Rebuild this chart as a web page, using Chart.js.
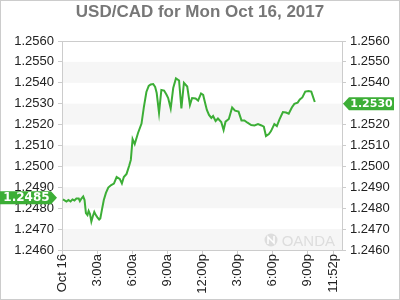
<!DOCTYPE html>
<html>
<head>
<meta charset="utf-8">
<title>USD/CAD</title>
<script src="https://cdn.jsdelivr.net/npm/chart.js@4.4.1/dist/chart.umd.min.js"></script>
<style>
    html, body { margin: 0; padding: 0; background: #fff; }
    canvas { display: block; }
</style>
</head>
<body>
<canvas id="chart" width="400" height="300"></canvas>
<script>
// ── Data ──────────────────────────────────────────────────────────────────

const TITLE = "USD/CAD for Mon Oct 16, 2017";

// minutes since 00:00, Oct 16
const TIMES = [
    5, 23, 33, 44, 54, 64, 74, 86, 92, 100,
    109, 116, 123, 131, 137, 144, 151, 159, 166, 174,
    182, 191, 197, 205, 215, 226, 238, 253, 267, 281,
    297, 308, 318, 332, 345, 354, 363, 374, 391, 409,
    421, 434, 446, 456, 469, 479, 487, 499, 511, 525,
    537, 546, 559, 572, 586, 602, 614, 627, 644, 658,
    669, 687, 700, 715, 726, 736, 745, 756, 768, 777,
    790, 802, 819, 831, 841, 858, 875, 890, 908, 923,
    938, 954, 973, 990, 1008, 1026, 1038, 1049, 1064, 1075,
    1092, 1105, 1118, 1136, 1152, 1166, 1182, 1195, 1212, 1223,
    1236, 1251, 1268, 1282, 1300
];

const RATES = [
    1.24842, 1.24832, 1.24839, 1.24832, 1.24842, 1.24837, 1.24846, 1.24846, 1.24834, 1.24846,
    1.24856, 1.24839, 1.24777, 1.24767, 1.24787, 1.24772, 1.24736, 1.24763, 1.24782, 1.24767,
    1.24756, 1.24746, 1.24751, 1.24791, 1.24839, 1.24873, 1.24899, 1.24911, 1.24918, 1.24949,
    1.24940, 1.24918, 1.24949, 1.24964, 1.25002, 1.25031, 1.25131, 1.25107, 1.25160, 1.25205,
    1.25284, 1.25356, 1.25385, 1.25392, 1.25394, 1.25380, 1.25351, 1.25256, 1.25366, 1.25363,
    1.25344, 1.25327, 1.25277, 1.25375, 1.25421, 1.25411, 1.25277, 1.25400, 1.25382, 1.25294,
    1.25327, 1.25325, 1.25315, 1.25349, 1.25342, 1.25303, 1.25270, 1.25246, 1.25232, 1.25241,
    1.25217, 1.25229, 1.25212, 1.25174, 1.25214, 1.25227, 1.25282, 1.25267, 1.25262, 1.25220,
    1.25220, 1.25209, 1.25198, 1.25196, 1.25202, 1.25196, 1.25190, 1.25145, 1.25155, 1.25169,
    1.25203, 1.25193, 1.25224, 1.25260, 1.25258, 1.25252, 1.25282, 1.25299, 1.25305, 1.25320,
    1.25330, 1.25358, 1.25361, 1.25358, 1.25308
];

const OPEN_RATE = 1.2485;
const LAST_RATE = 1.2530;

const Y_TICKS = [
    1.2460, 1.2470, 1.2480, 1.2490, 1.2500, 1.2510,
    1.2520, 1.2530, 1.2540, 1.2550, 1.2560
];

// last label sits where the source chart puts it, a bit short of the edge
const X_TICKS       = [0, 180, 360, 540, 720, 900, 1080, 1260, 1395];
const X_TICK_LABELS = ["Oct 16", "3:00a", "6:00a", "9:00a", "12:00p", "3:00p", "6:00p", "9:00p", "11:52p"];
const X_MAX = 1440;

// ── Style ─────────────────────────────────────────────────────────────────

const COLORS = {
    line:  "#3cae36",
    tag:   "#3cae36",
    band:  "#f6f6f6",
    frame: "#cccccc",
    text:  "#222222",
    title: "#777777",
    mark:  "#dddddd"
};

const FONT = "'Liberation Sans', Arial, sans-serif";

// ── Plugin: bands, frame, title, price tags, watermark ────────────────────

function drawTag(ctx, text, y, tipX, side, font) {
    const h = 13, tip = 6;
    ctx.save();
    ctx.fillStyle = COLORS.tag;
    ctx.beginPath();
    if (side === "left") {
        const bx = tipX - tip;
        ctx.moveTo(0, y - h / 2);
        ctx.lineTo(bx, y - h / 2);
        ctx.lineTo(tipX, y);
        ctx.lineTo(bx, y + h / 2);
        ctx.lineTo(0, y + h / 2);
    } else {
        const bx = tipX + tip;
        ctx.moveTo(tipX, y);
        ctx.lineTo(bx, y - h / 2);
        ctx.lineTo(bx + 45, y - h / 2);
        ctx.lineTo(bx + 45, y + h / 2);
        ctx.lineTo(bx, y + h / 2);
    }
    ctx.closePath();
    ctx.fill();

    ctx.fillStyle = "#fff";
    ctx.font = font;
    ctx.textBaseline = "middle";
    ctx.textAlign = "center";
    const cx = side === "left" ? (tipX - tip) / 2 + 1 : tipX + tip + 22.5;
    ctx.fillText(text, cx, y + 0.5);
    ctx.restore();
}

const decor = {
    id: "decor",
    beforeDraw(chart) {
        const { ctx, chartArea: a, scales: { y } } = chart;
        ctx.save();
        ctx.fillStyle = COLORS.band;
        for (let i = 0; i < Y_TICKS.length - 1; i += 2) {
            const top = y.getPixelForValue(Y_TICKS[i + 1]);
            const bot = y.getPixelForValue(Y_TICKS[i]);
            ctx.fillRect(a.left, top, a.right - a.left, bot - top);
        }

        // OANDA watermark, bottom right of the plot
        ctx.fillStyle = COLORS.mark;
        ctx.font = "15px " + FONT;
        ctx.textAlign = "right";
        ctx.textBaseline = "alphabetic";
        ctx.fillText("OANDA", a.right - 7, a.bottom - 4);
        ctx.beginPath();
        ctx.arc(a.right - 71, a.bottom - 10, 6.5, 0, Math.PI * 2);
        ctx.fill();
        ctx.strokeStyle = "#fff";
        ctx.lineWidth = 1.5;
        ctx.beginPath();
        ctx.moveTo(a.right - 74, a.bottom - 6);
        ctx.lineTo(a.right - 74, a.bottom - 13);
        ctx.lineTo(a.right - 68, a.bottom - 7);
        ctx.lineTo(a.right - 68, a.bottom - 14);
        ctx.stroke();
        ctx.restore();
    },
    afterDraw(chart) {
        const { ctx, chartArea: a, scales: { y } } = chart;
        ctx.save();

        // top edge of the plot frame
        ctx.strokeStyle = COLORS.frame;
        ctx.lineWidth = 1;
        ctx.beginPath();
        ctx.moveTo(a.left, a.top + 0.5);
        ctx.lineTo(a.right, a.top + 0.5);
        ctx.stroke();

        // outer border
        ctx.strokeRect(0.5, 0.5, chart.width - 1, chart.height - 1);

        // title
        ctx.fillStyle = COLORS.title;
        ctx.font = "bold 17px " + FONT;
        ctx.textAlign = "center";
        ctx.textBaseline = "middle";
        ctx.fillText(TITLE, chart.width / 2, 12);
        ctx.restore();

        drawTag(ctx, OPEN_RATE.toFixed(4), y.getPixelForValue(OPEN_RATE), a.left - 5, "left",
            "bold 12px 'DejaVu Sans', sans-serif");
        drawTag(ctx, LAST_RATE.toFixed(4), y.getPixelForValue(LAST_RATE), a.right + 1, "right",
            "bold 11px 'DejaVu Sans', sans-serif");
    }
};

// ── Scales ────────────────────────────────────────────────────────────────

function yScale(position, width) {
    return {
        type: "linear",
        position,
        min: Y_TICKS[0],
        max: Y_TICKS[Y_TICKS.length - 1],
        afterBuildTicks: s => { s.ticks = Y_TICKS.map(v => ({ value: v })); },
        afterFit: s => { s.width = width; },
        ticks: {
            color: COLORS.text,
            font: { family: FONT, size: 13 },
            padding: 4,
            callback: v => Number(v).toFixed(4)
        },
        grid: { drawOnChartArea: false, tickLength: 4, color: COLORS.frame },
        border: { color: COLORS.frame }
    };
}

// ── Chart ─────────────────────────────────────────────────────────────────

new Chart(document.getElementById("chart"), {
    type: "line",
    data: {
        datasets: [{
            data: TIMES.map((t, i) => ({ x: t, y: RATES[i] })),
            borderColor: COLORS.line,
            borderWidth: 2,
            pointRadius: 0,
            tension: 0,
            fill: false
        }]
    },
    options: {
        responsive: false,
        animation: false,
        devicePixelRatio: 1,
        layout: { padding: { top: 41, left: 0, right: 0, bottom: 0 } },
        plugins: {
            legend: { display: false },
            tooltip: { enabled: false }
        },
        scales: {
            x: {
                type: "linear",
                min: 0,
                max: X_MAX,
                afterBuildTicks: s => { s.ticks = X_TICKS.map(v => ({ value: v })); },
                afterFit: s => { s.height = 50; },
                ticks: {
                    autoSkip: false,
                    minRotation: 90,
                    maxRotation: 90,
                    padding: 0,
                    color: COLORS.text,
                    font: { family: FONT, size: 13 },
                    callback: (v, i) => X_TICK_LABELS[i]
                },
                grid: { drawOnChartArea: false, tickLength: 4, color: COLORS.frame },
                border: { color: COLORS.frame }
            },
            y:  yScale("left", 62),
            y2: yScale("right", 58)
        }
    },
    plugins: [decor]
});
</script>
</body>
</html>
